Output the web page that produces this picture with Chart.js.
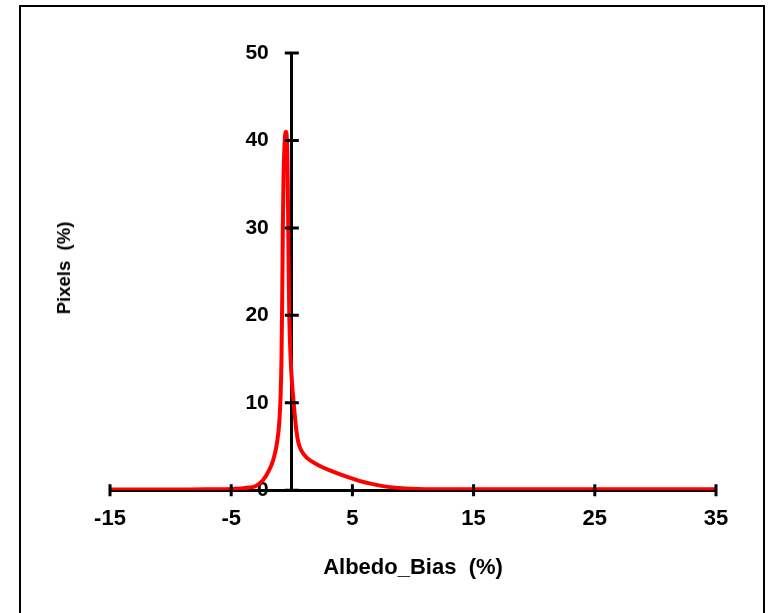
<!DOCTYPE html>
<html>
<head>
<meta charset="utf-8">
<title>Albedo bias histogram</title>
<script src="https://cdn.jsdelivr.net/npm/chart.js@4.4.1/dist/chart.umd.min.js"></script>
<style>
  html, body { margin: 0; padding: 0; background: #fff; }
  #wrap { position: relative; width: 769px; height: 613px; overflow: hidden; }
  #frame { position: absolute; left: 19px; top: 5px; width: 746px; height: 660px; border: 2px solid #000; box-sizing: border-box; }
  #chart { position: absolute; left: 0; top: 0; }
  #yTitle {
    position: absolute; left: 64px; top: 268px;
    transform: translate(-50%, -50%) rotate(-90deg);
    font: bold 18.5px "Liberation Sans", Arial, sans-serif;
    white-space: pre; color: #000;
  }
</style>
</head>
<body>
<div id="wrap">
  <div id="frame"></div>
  <canvas id="chart" width="769" height="613"></canvas>
  <div id="yTitle">Pixels  (%)</div>
</div>
<script>
// albedo bias (%) and share of pixels (%) at each bias
const biasPct = [-15, -12, -9, -7, -5, -4, -3.5, -3, -2.4, -1.9, -1.5, -1.2, -1.02, -0.92, -0.85, -0.79, -0.74,
  -0.68, -0.6, -0.5, -0.42, -0.35, -0.3, -0.25, -0.2, -0.1, 0, 0.12, 0.25, 0.38, 0.55, 0.8, 1.25, 2.08,
  3.3, 4.4, 5.5, 6.5, 8.1, 10.5, 13, 20, 35];
const pixelPct = [0.08, 0.08, 0.09, 0.1, 0.15, 0.22, 0.3, 0.45, 1.1, 2.2, 3.6, 5.6, 8, 11, 15, 22, 30,
  36, 39.5, 41, 40.5, 37, 31, 24, 19.5, 15.2, 12.6, 10.5, 8.5, 6.8, 5.4, 4.5, 3.7, 2.95,
  2.18, 1.6, 1.1, 0.75, 0.35, 0.14, 0.1, 0.1, 0.1];

const xTicks = [-15, -5, 5, 15, 25, 35];
const yTicks = [0, 10, 20, 30, 40, 50];

const FONT = '"Liberation Sans", Arial, sans-serif';

// y labels sit left of the axis line at x = 0, ticks cross both axis lines
const axisMarks = {
  id: 'axisMarks',
  beforeDatasetsDraw(chart) {
    const { ctx, scales: { x, y } } = chart;
    const x0 = x.getPixelForValue(0);
    ctx.save();
    ctx.fillStyle = '#000';
    ctx.font = 'bold 21px ' + FONT;
    ctx.textAlign = 'right';
    ctx.textBaseline = 'middle';
    y.ticks.forEach(t => {
      ctx.fillText(t.label, x0 - 23, y.getPixelForValue(t.value));
    });
    ctx.restore();
  },
  afterDatasetsDraw(chart) {
    const { ctx, scales: { x, y } } = chart;
    const x0 = x.getPixelForValue(0);
    const y0 = y.getPixelForValue(0);
    ctx.save();
    ctx.strokeStyle = '#000';
    ctx.lineWidth = 3;
    ctx.beginPath();
    x.ticks.forEach(t => {
      const px = x.getPixelForValue(t.value);
      ctx.moveTo(px, y0 - 6);
      ctx.lineTo(px, y0 + 6);
    });
    y.ticks.forEach(t => {
      const py = y.getPixelForValue(t.value);
      ctx.moveTo(x0 - 7, py);
      ctx.lineTo(x0 + 7, py);
    });
    ctx.stroke();
    ctx.restore();
  }
};

const points = biasPct.map((b, i) => ({ x: b, y: pixelPct[i] }));

new Chart(document.getElementById('chart'), {
  type: 'line',
  data: {
    datasets: [{
      data: points,
      borderColor: '#ff0000',
      borderWidth: 4,
      pointRadius: 0,
      fill: false,
      cubicInterpolationMode: 'monotone'
    }]
  },
  options: {
    responsive: false,
    animation: false,
    layout: { padding: { left: 110, right: 53, top: 53, bottom: 32 } },
    plugins: { legend: { display: false }, tooltip: { enabled: false } },
    scales: {
      x: {
        type: 'linear',
        position: 'bottom',
        min: -15,
        max: 35,
        afterBuildTicks: s => { s.ticks = xTicks.map(v => ({ value: v })); },
        grid: { display: false, drawTicks: true, tickLength: 6 },
        border: { display: true, color: '#000', width: 3 },
        ticks: { color: '#000', padding: 10, maxRotation: 0, autoSkip: false,
                 font: { family: FONT, size: 22, weight: 'bold' } },
        title: { display: true, text: 'Albedo_Bias  (%)', color: '#000',
                 padding: { top: 12, bottom: 0 },
                 font: { family: FONT, size: 22, weight: 'bold' } }
      },
      y: {
        type: 'linear',
        position: { x: 0 },
        min: 0,
        max: 50,
        afterBuildTicks: s => { s.ticks = yTicks.map(v => ({ value: v, label: String(v) })); },
        grid: { display: false, drawTicks: false },
        border: { display: true, color: '#000', width: 3 },
        ticks: { display: false }
      }
    }
  },
  plugins: [axisMarks]
});
</script>
</body>
</html>
